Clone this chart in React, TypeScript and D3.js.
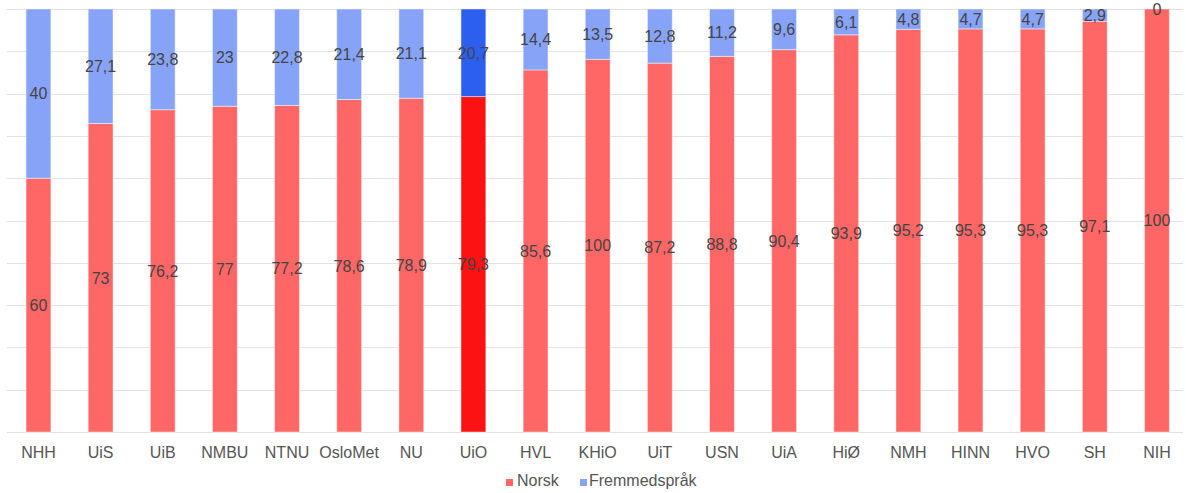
import * as d3 from 'd3'
import React from 'react'

const categories = ['NHH', 'UiS', 'UiB', 'NMBU', 'NTNU', 'OsloMet', 'NU', 'UiO', 'HVL', 'KHiO', 'UiT', 'USN', 'UiA', 'HiØ', 'NMH', 'HINN', 'HVO', 'SH', 'NIH']
const norsk = [60, 73, 76.2, 77, 77.2, 78.6, 78.9, 79.3, 85.6, 100, 87.2, 88.8, 90.4, 93.9, 95.2, 95.3, 95.3, 97.1, 100]
const fremmedsprak = [40, 27.1, 23.8, 23, 22.8, 21.4, 21.1, 20.7, 14.4, 13.5, 12.8, 11.2, 9.6, 6.1, 4.8, 4.7, 4.7, 2.9, 0]
const seriesNames = ['Norsk', 'Fremmedspråk']
const highlight = 'UiO'

const W = 1186
const H = 493
const top = 9
const bottom = 432
const font = '"Liberation Sans", Arial, sans-serif'

const colors: Record<string, string> = { Norsk: '#ff6666', 'Fremmedspråk': '#87a3f7' }
const hiColors: Record<string, string> = { Norsk: '#fc1212', 'Fremmedspråk': '#2c5ff0' }

export default function App() {
  const rows = categories.map((c, i) => ({ cat: c, Norsk: norsk[i], 'Fremmedspråk': fremmedsprak[i] }))
  const stacked = d3.stack<any>().keys(seriesNames).offset(d3.stackOffsetExpand)(rows)

  const x = d3.scaleBand<string>().domain(categories).range([7.4, 1188]).paddingInner(0.6).paddingOuter(0.3)
  const y = d3.scaleLinear().domain([0, 1]).range([bottom, top])
  const grid = d3.range(0, 1.0001, 0.1)

  const fmt = (v: number) => String(v).replace('.', ',')

  return (
    <svg width={W} height={H} style={{ position: 'absolute', left: 0, top: 0, background: '#fff' }} fontFamily={font}>
      {grid.map((g, i) => (
        <line key={i} x1={7} x2={1183} y1={Math.round(y(g)) + 0.5} y2={Math.round(y(g)) + 0.5} stroke="#e2e2e2" strokeWidth={1} />
      ))}
      {stacked.map((s) => (
        <g key={s.key}>
          {s.map((d, i) => {
            const c = categories[i]
            const fill = c === highlight ? hiColors[s.key] : colors[s.key]
            return (
              <rect key={c} x={x(c)} width={x.bandwidth()} y={y(d[1])} height={y(d[0]) - y(d[1])}
                fill={fill} stroke="#ffffff" strokeOpacity={0.45} strokeWidth={1} />
            )
          })}
        </g>
      ))}
      {stacked.map((s) => (
        <g key={s.key + 'l'}>
          {s.map((d, i) => {
            const c = categories[i]
            const v = (d.data as any)[s.key]
            return (
              <text key={c} x={x(c)! + x.bandwidth() / 2} y={(y(d[0]) + y(d[1])) / 2} dy="0.36em"
                textAnchor="middle" fontSize={16} fill="#444">{fmt(v)}</text>
            )
          })}
        </g>
      ))}
      {categories.map((c) => (
        <text key={c} x={x(c)! + x.bandwidth() / 2} y={458} textAnchor="middle" fontSize={16} fill="#555">{c}</text>
      ))}
      <g>
        <rect x={506} y={479} width={7} height={7} fill={colors.Norsk} />
        <text x={517} y={486} fontSize={16} fill="#555">Norsk</text>
        <rect x={580} y={479} width={7} height={7} fill={colors['Fremmedspråk']} />
        <text x={589} y={486} fontSize={16} fill="#555">Fremmedspråk</text>
      </g>
    </svg>
  )
}
